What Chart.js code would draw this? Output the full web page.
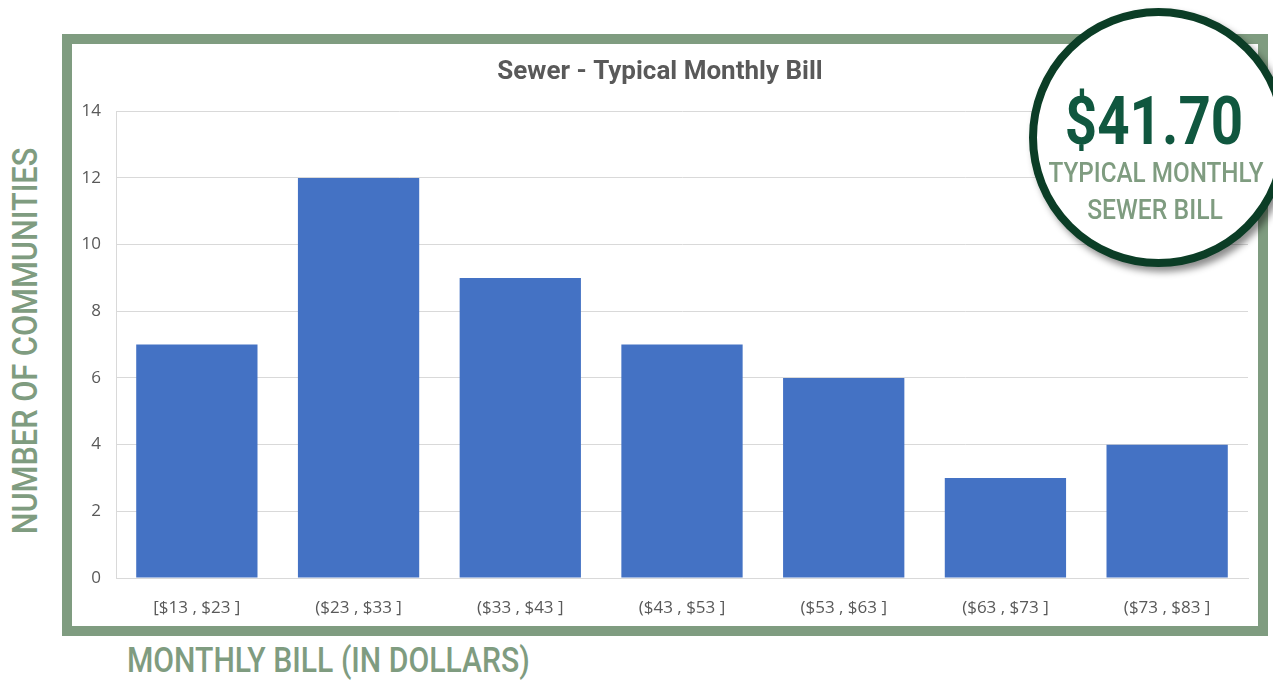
<!DOCTYPE html>
<html>
<head>
<meta charset="utf-8">
<script src="https://cdn.jsdelivr.net/npm/chart.js@4.4.1/dist/chart.umd.min.js"></script>
<style>
  html, body { margin: 0; padding: 0; width: 1273px; height: 686px; overflow: hidden; background: #ffffff; }
  .cond { font-family: Roboto, "Liberation Sans", sans-serif; font-weight: 500; position: absolute; white-space: nowrap; line-height: 1; }
  #frame { position: absolute; left: 62px; top: 34px; width: 1206px; height: 602px; box-sizing: border-box; border: 10px solid #7F9C80; background: #fff; }
  #wrap { position: relative; width: 1186px; height: 582px; }
  #ytitle { left: 25px; top: 341px; color: #7F9C80; font-size: 35px; }
  #xtitle { left: 127px; top: 643px; color: #7F9C80; font-size: 35px; }
  #badge { position: absolute; left: 1029px; top: 8px; width: 259px; height: 259px; box-sizing: border-box; border: 8px solid #0B3D26; border-radius: 50%; background: #fff; box-shadow: 4px 5px 7px rgba(0,0,0,0.45); }
  #amount { left: 1154px; top: 89px; font-size: 66px; font-weight: bold; color: #10573F; }
  #l1 { left: 1156px; top: 159px; font-size: 28px; color: #7F9C80; }
  #l2 { left: 1155px; top: 196px; font-size: 28px; color: #7F9C80; }
</style>
</head>
<body>
<div id="frame"><div id="wrap"><canvas id="c"></canvas></div></div>
<div id="ytitle" class="cond">NUMBER OF COMMUNITIES</div>
<div id="xtitle" class="cond">MONTHLY BILL (IN DOLLARS)</div>
<div id="badge"></div>
<div id="amount" class="cond">$41.70</div>
<div id="l1" class="cond">TYPICAL MONTHLY</div>
<div id="l2" class="cond">SEWER BILL</div>
<script>
const categories = ["[$13 , $23 ]", "($23 , $33 ]", "($33 , $43 ]", "($43 , $53 ]", "($53 , $63 ]", "($63 , $73 ]", "($73 , $83 ]"];
const communityCounts = [7, 12, 9, 7, 6, 3, 4];
const yTickValues = [0, 2, 4, 6, 8, 10, 12, 14];
const chartTitle = "Sewer - Typical Monthly Bill";

const tickFont = { family: '"Open Sans", "Noto Sans", sans-serif', size: 17 };

new Chart(document.getElementById('c'), {
  type: 'bar',
  data: {
    labels: categories,
    datasets: [{
      label: 'Communities',
      data: communityCounts,
      backgroundColor: '#4472C4',
      barPercentage: 0.75,
      categoryPercentage: 1.0
    }]
  },
  options: {
    responsive: true,
    maintainAspectRatio: false,
    animation: false,
    layout: { padding: { left: 0, right: 10, top: 0, bottom: 0 } },
    plugins: {
      legend: { display: false },
      tooltip: { enabled: false },
      title: {
        display: true,
        text: chartTitle,
        color: '#595959',
        font: { family: 'Roboto, "Liberation Sans", sans-serif', size: 26, weight: 'bold' },
        padding: { top: 13, bottom: 23 }
      }
    },
    scales: {
      y: {
        min: yTickValues[0],
        max: yTickValues[yTickValues.length - 1],
        afterBuildTicks: (scale) => { scale.ticks = yTickValues.map(v => ({ value: v })); },
        ticks: { color: '#595959', font: tickFont, padding: 15 },
        grid: { color: '#D9D9D9', drawTicks: false, lineWidth: 1 },
        border: { display: true, color: '#D9D9D9' },
        afterFit: (scale) => { scale.width = 44; }
      },
      x: {
        ticks: { color: '#595959', font: tickFont, padding: 12, maxRotation: 0, autoSkip: false },
        grid: { display: false },
        border: { display: true, color: '#D9D9D9' },
        afterFit: (scale) => { scale.height = 48; }
      }
    }
  }
});

// Fit condensed-looking HTML labels to their widths in the reference
function fitText() {
  const specs = [
    ['xtitle', 403, 'left', ''],
    ['ytitle', 387, 'center', 'rot'],
    ['amount', 178, 'center', ''],
    ['l1', 215, 'center', ''],
    ['l2', 136, 'center', '']
  ];
  specs.forEach(([id, target, anchor, rot]) => {
    const el = document.getElementById(id);
    el.style.transform = 'none';
    const w = el.offsetWidth;
    const s = target / w;
    el.style.transformOrigin = '0 0';
    if (rot) {
      el.style.transform = 'rotate(-90deg) scaleX(' + s + ') translate(-50%, -50%)';
    } else if (anchor === 'left') {
      el.style.transform = 'scaleX(' + s + ')';
    } else {
      el.style.transform = 'scaleX(' + s + ') translateX(-50%)';
    }
  });
}
fitText();
if (document.fonts && document.fonts.ready) document.fonts.ready.then(fitText);
</script>
</body>
</html>
